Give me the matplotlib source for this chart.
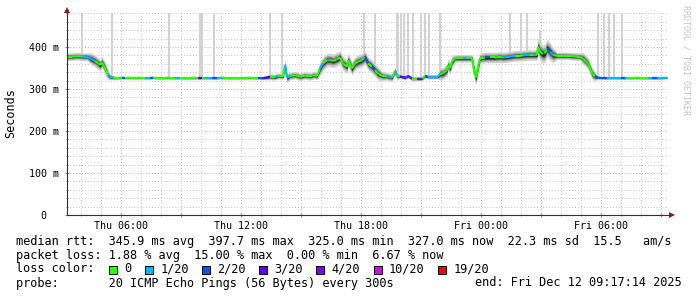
import numpy as np
import matplotlib
matplotlib.use("Agg")
import matplotlib.pyplot as plt
import matplotlib.dates as mdates
from matplotlib.collections import LineCollection
from matplotlib.patches import Rectangle
from matplotlib.ticker import MultipleLocator, FuncFormatter
from datetime import datetime

plt.rcParams['font.family'] = ['DejaVu Sans Mono']

# 30 hour window ending Fri Dec 12 09:17:14 2025
start = datetime(2025, 12, 11, 3, 17, 14)

# minutes since start, median rtt (ms), lost pings (of 20), smoke half width (ms)
minutes = [0, 15, 30, 45, 60, 72, 84, 93, 99, 105, 111, 117, 123, 129, 138, 153, 165, 174,
           189, 204, 219, 234, 249, 258, 273, 288, 303, 315, 324, 339, 354, 369, 384, 393,
           405, 414, 435, 450, 465, 483, 504, 525, 549, 564, 573, 588, 609, 624, 633, 648,
           654, 660, 669, 684, 699, 714, 729, 741, 750, 759, 768, 780, 789, 798, 810, 819,
           828, 840, 843, 855, 864, 873, 885, 894, 903, 915, 924, 933, 945, 960, 975, 984,
           990, 999, 1014, 1023, 1035, 1050, 1065, 1074, 1083, 1098, 1113, 1119, 1128, 1140,
           1143, 1149, 1155, 1164, 1179, 1188, 1200, 1215, 1218, 1224, 1227, 1233, 1239,
           1254, 1269, 1284, 1299, 1308, 1329, 1344, 1359, 1368, 1383, 1389, 1398, 1410,
           1413, 1419, 1428, 1434, 1440, 1449, 1458, 1470, 1485, 1500, 1515, 1530, 1539,
           1548, 1563, 1575, 1584, 1593, 1608, 1620, 1635, 1650, 1662, 1674, 1680, 1695,
           1710, 1728, 1743, 1755, 1770, 1785, 1800]
median_ms = [377, 377, 378, 377, 377, 372, 367, 361, 357, 363, 355, 345, 333, 329, 327, 326, 327, 326,
             327, 326, 327, 326, 326, 327, 326, 326, 327, 326, 326, 326, 326, 326, 327, 326,
             326, 326, 326, 326, 327, 326, 326, 326, 327, 326, 326, 326, 329, 328, 331, 330,
             357, 326, 331, 333, 329, 332, 330, 333, 331, 349, 361, 369, 369, 367, 371, 375,
             361, 353, 369, 349, 361, 365, 369, 375, 361, 353, 345, 337, 331, 330, 327, 343,
             331, 330, 327, 331, 325, 325, 325, 331, 329, 329, 329, 336, 337, 345,
             357, 349, 365, 373, 373, 373, 373, 373, 357, 333, 327, 353, 373,
             375, 375, 375, 376, 375, 377, 379, 379, 380, 381, 381, 381, 381,
             401, 389, 383, 385, 397, 389, 381, 379, 379, 379, 378, 377, 377,
             373, 361, 337, 330, 327, 326, 326, 326, 326, 326, 326, 326, 326,
             327, 326, 326, 326, 326, 326, 327]
loss = [0, 0, 0, 1, 1, 1, 0, 0, 0, 0, 0, 0, 1, 1, 0, 0, 2, 0,
        0, 0, 0, 1, 2, 0, 0, 0, 0, 0, 1, 0, 0, 0, 0, 3,
        0, 1, 2, 1, 0, 0, 0, 0, 0, 0, 2, 3, 0, 1, 0, 0,
        1, 1, 0, 0, 0, 0, 0, 0, 0, 1, 0, 1, 0, 0, 0, 0,
        0, 0, 0, 0, 0, 0, 0, 2, 0, 2, 0, 0, 0, 1, 0, 1,
        0, 3, 2, 4, 0, 3, 0, 2, 1, 1, 1, 0, 0, 0,
        0, 0, 0, 0, 0, 1, 0, 0, 0, 0, 0, 0, 0,
        2, 0, 0, 0, 1, 1, 0, 0, 1, 1, 0, 1, 0,
        0, 0, 2, 0, 2, 1, 0, 0, 0, 0, 0, 0, 0,
        0, 0, 0, 2, 2, 2, 1, 1, 1, 2, 1, 0, 0,
        0, 0, 1, 2, 1, 1, 1]
smoke_ms = [5, 5, 5, 5, 5, 8, 8, 8, 8, 8, 8, 8, 6, 4, 3, 1.5, 1.5, 1.5,
            1.5, 1.5, 1.5, 1.5, 1.5, 1.5, 1.5, 1.5, 1.5, 1.5, 1.5, 1.5, 1.5, 1.5, 1.5, 1.5,
            1.5, 1.5, 1.5, 1.5, 1.5, 1.5, 1.5, 1.5, 1.5, 1.5, 1.5, 2, 4, 4, 4, 4,
            6, 6, 5, 5, 5, 5, 5, 5, 5, 9, 9, 9, 9, 9, 9, 9,
            9, 9, 9, 9, 9, 9, 9, 9, 9, 9, 9, 9, 6, 5, 5, 5,
            5, 3, 3, 3, 3, 3, 3, 3, 3, 3, 3, 8, 8, 8,
            8, 8, 8, 5, 5, 5, 5, 5, 10, 10, 10, 10, 7,
            7, 7, 7, 7, 7, 7, 7, 7, 7, 7, 7, 7, 7,
            12, 12, 12, 12, 12, 12, 10, 5, 5, 5, 5, 5, 5,
            8, 8, 8, 6, 2, 1.5, 1.5, 1.5, 1.5, 1.5, 1.5, 1.5, 1.5,
            1.5, 1.5, 1.5, 1.5, 1.5, 1.5, 1.5]

# single pings that went off the top of the graph
spike_min = [0, 45, 135, 306, 399, 405, 441, 609, 645, 891, 924, 990, 993, 1002, 1011,
             1023, 1038, 1062, 1074, 1086, 1119, 1329, 1362, 1380, 1419, 1593, 1611,
             1626, 1641, 1665]
spike_base = [377, 377, 327, 326, 326, 326, 326, 329, 330, 370, 350, 331, 331, 330, 330,
              331, 325, 329, 331, 329, 336, 377, 380, 381, 389, 327, 326, 326, 326, 326]
spike_top = [480, 480, 480, 480, 480, 480, 480, 480, 480, 480, 480, 480, 480, 480, 480,
             480, 480, 480, 480, 480, 480, 480, 480, 480, 440, 480, 480, 480, 480, 480]

loss_colors = {0: '#26ff00', 1: '#00b8ff', 2: '#0059ff', 3: '#5e00ff',
               4: '#7e00ff', 10: '#dd00ff', 19: '#ff0000'}
legend_loss = [0, 1, 2, 3, 4, 10, 19]
legend_labels = ['0', '1/20', '2/20', '3/20', '4/20', '10/20', '19/20']

stats_rtt = "median rtt:  345.9 ms avg  397.7 ms max  325.0 ms min  327.0 ms now  22.3 ms sd  15.5   am/s"
stats_loss = "packet loss: 1.88 % avg  15.00 % max  0.00 % min  6.67 % now"
probe_text = "probe:       20 ICMP Echo Pings (56 Bytes) every 300s"
end_text = "end: Fri Dec 12 09:17:14 2025"

t0 = mdates.date2num(start)
t = t0 + np.array(minutes) / 1440.0
med = np.array(median_ms, dtype=float)
smk = np.array(smoke_ms, dtype=float)

W, H = 697, 297
fig = plt.figure(figsize=(W / 100, H / 100), dpi=100)
ax = fig.add_axes([67 / W, 82 / H, 600 / W, 201.6 / H])

# spikes
ax.bar(t0 + np.array(spike_min) / 1440.0, np.array(spike_top) - np.array(spike_base),
       bottom=spike_base, width=5 / 1440.0, color='#d2d2d2', linewidth=0, zorder=1)

# smoke
for frac, col in [(1.8, '#d2d2d2'), (1.2, '#a4a4a4'), (0.75, '#626262'), (0.45, '#1a1a1a')]:
    ax.fill_between(t, med - smk * frac, med + smk * frac, color=col, linewidth=0, zorder=2)

# median coloured by loss
pts = np.column_stack([t, med])
segs = np.stack([pts[:-1], pts[1:]], axis=1)
lc = LineCollection(segs, colors=[loss_colors[l] for l in loss[:-1]], linewidths=1.6,
                    capstyle='butt', zorder=3)
ax.add_collection(lc)

ax.set_xlim(t0, t0 + 1800 / 1440.0)
ax.set_ylim(0, 480)

ax.xaxis.set_major_locator(mdates.HourLocator(byhour=range(0, 24, 3)))
ax.xaxis.set_minor_locator(mdates.HourLocator())


def xfmt(x, pos):
    d = mdates.num2date(x)
    return d.strftime('%a %H:%M') if d.hour % 6 == 0 else ''


ax.xaxis.set_major_formatter(FuncFormatter(xfmt))
ax.yaxis.set_major_locator(MultipleLocator(100))
ax.yaxis.set_minor_locator(MultipleLocator(20))
ax.yaxis.set_major_formatter(FuncFormatter(lambda v, p: f"{v:.0f} m" if v > 0 else "0  "))

ax.grid(which='minor', color='#c4c4c4', linestyle=(0, (1, 2)), linewidth=0.7, zorder=0)
ax.grid(which='major', color='#e8a0a0', linestyle=(0, (1, 2)), linewidth=0.7, zorder=0)
ax.set_axisbelow(True)
for s in ax.spines.values():
    s.set_visible(False)
ax.tick_params(which='both', direction='inout', color='#909090', labelsize=7.2, pad=2.5)
ax.tick_params(which='major', length=3)
ax.tick_params(which='minor', length=2)
ax.tick_params(axis='y', pad=4)

ax.plot([0, 1.006], [0, 0], transform=ax.transAxes, color='#303030', lw=0.8, clip_on=False, zorder=5)
ax.plot([0, 0], [0, 1.012], transform=ax.transAxes, color='#303030', lw=0.8, clip_on=False, zorder=5)
ax.plot(1.008, 0, marker='>', ms=4, color='#8b1a1a', mew=0, transform=ax.transAxes, clip_on=False, zorder=6)
ax.plot(0, 1.017, marker='^', ms=4, color='#8b1a1a', mew=0, transform=ax.transAxes, clip_on=False, zorder=6)

fig.text(11 / W, 1 - 113 / H, 'Seconds', rotation=90, ha='center', va='center', fontsize=8.5)
fig.text(686 / W, 1 - 60 / H, 'RRDTOOL / TOBI OETIKER', rotation=270, ha='center', va='center',
         fontsize=6, color='#c4c4c4')

fs = 8.55
cw = 7.15
x0 = 16
fig.text(x0 / W, 1 - 241 / H, stats_rtt, va='center', fontsize=fs)
fig.text(x0 / W, 1 - 255 / H, stats_loss, va='center', fontsize=fs)
fig.text(x0 / W, 1 - 269 / H, "loss color:", va='center', fontsize=fs)
col = 13
for l, lab in zip(legend_loss, legend_labels):
    bx = x0 + col * cw
    fig.patches.append(Rectangle((bx / W, 1 - 273.5 / H), 8 / W, 8 / H, transform=fig.transFigure,
                                 facecolor=loss_colors[l], edgecolor='black', linewidth=0.7))
    fig.text((bx + 15.5) / W, 1 - 269 / H, lab, va='center', fontsize=fs)
    col += 2 + len(lab) + 2
fig.text(x0 / W, 1 - 283 / H, probe_text, va='center', fontsize=fs)
fig.text(682 / W, 1 - 283 / H, end_text, va='center', ha='right', fontsize=fs)

fig.savefig('out.png', dpi=100)
